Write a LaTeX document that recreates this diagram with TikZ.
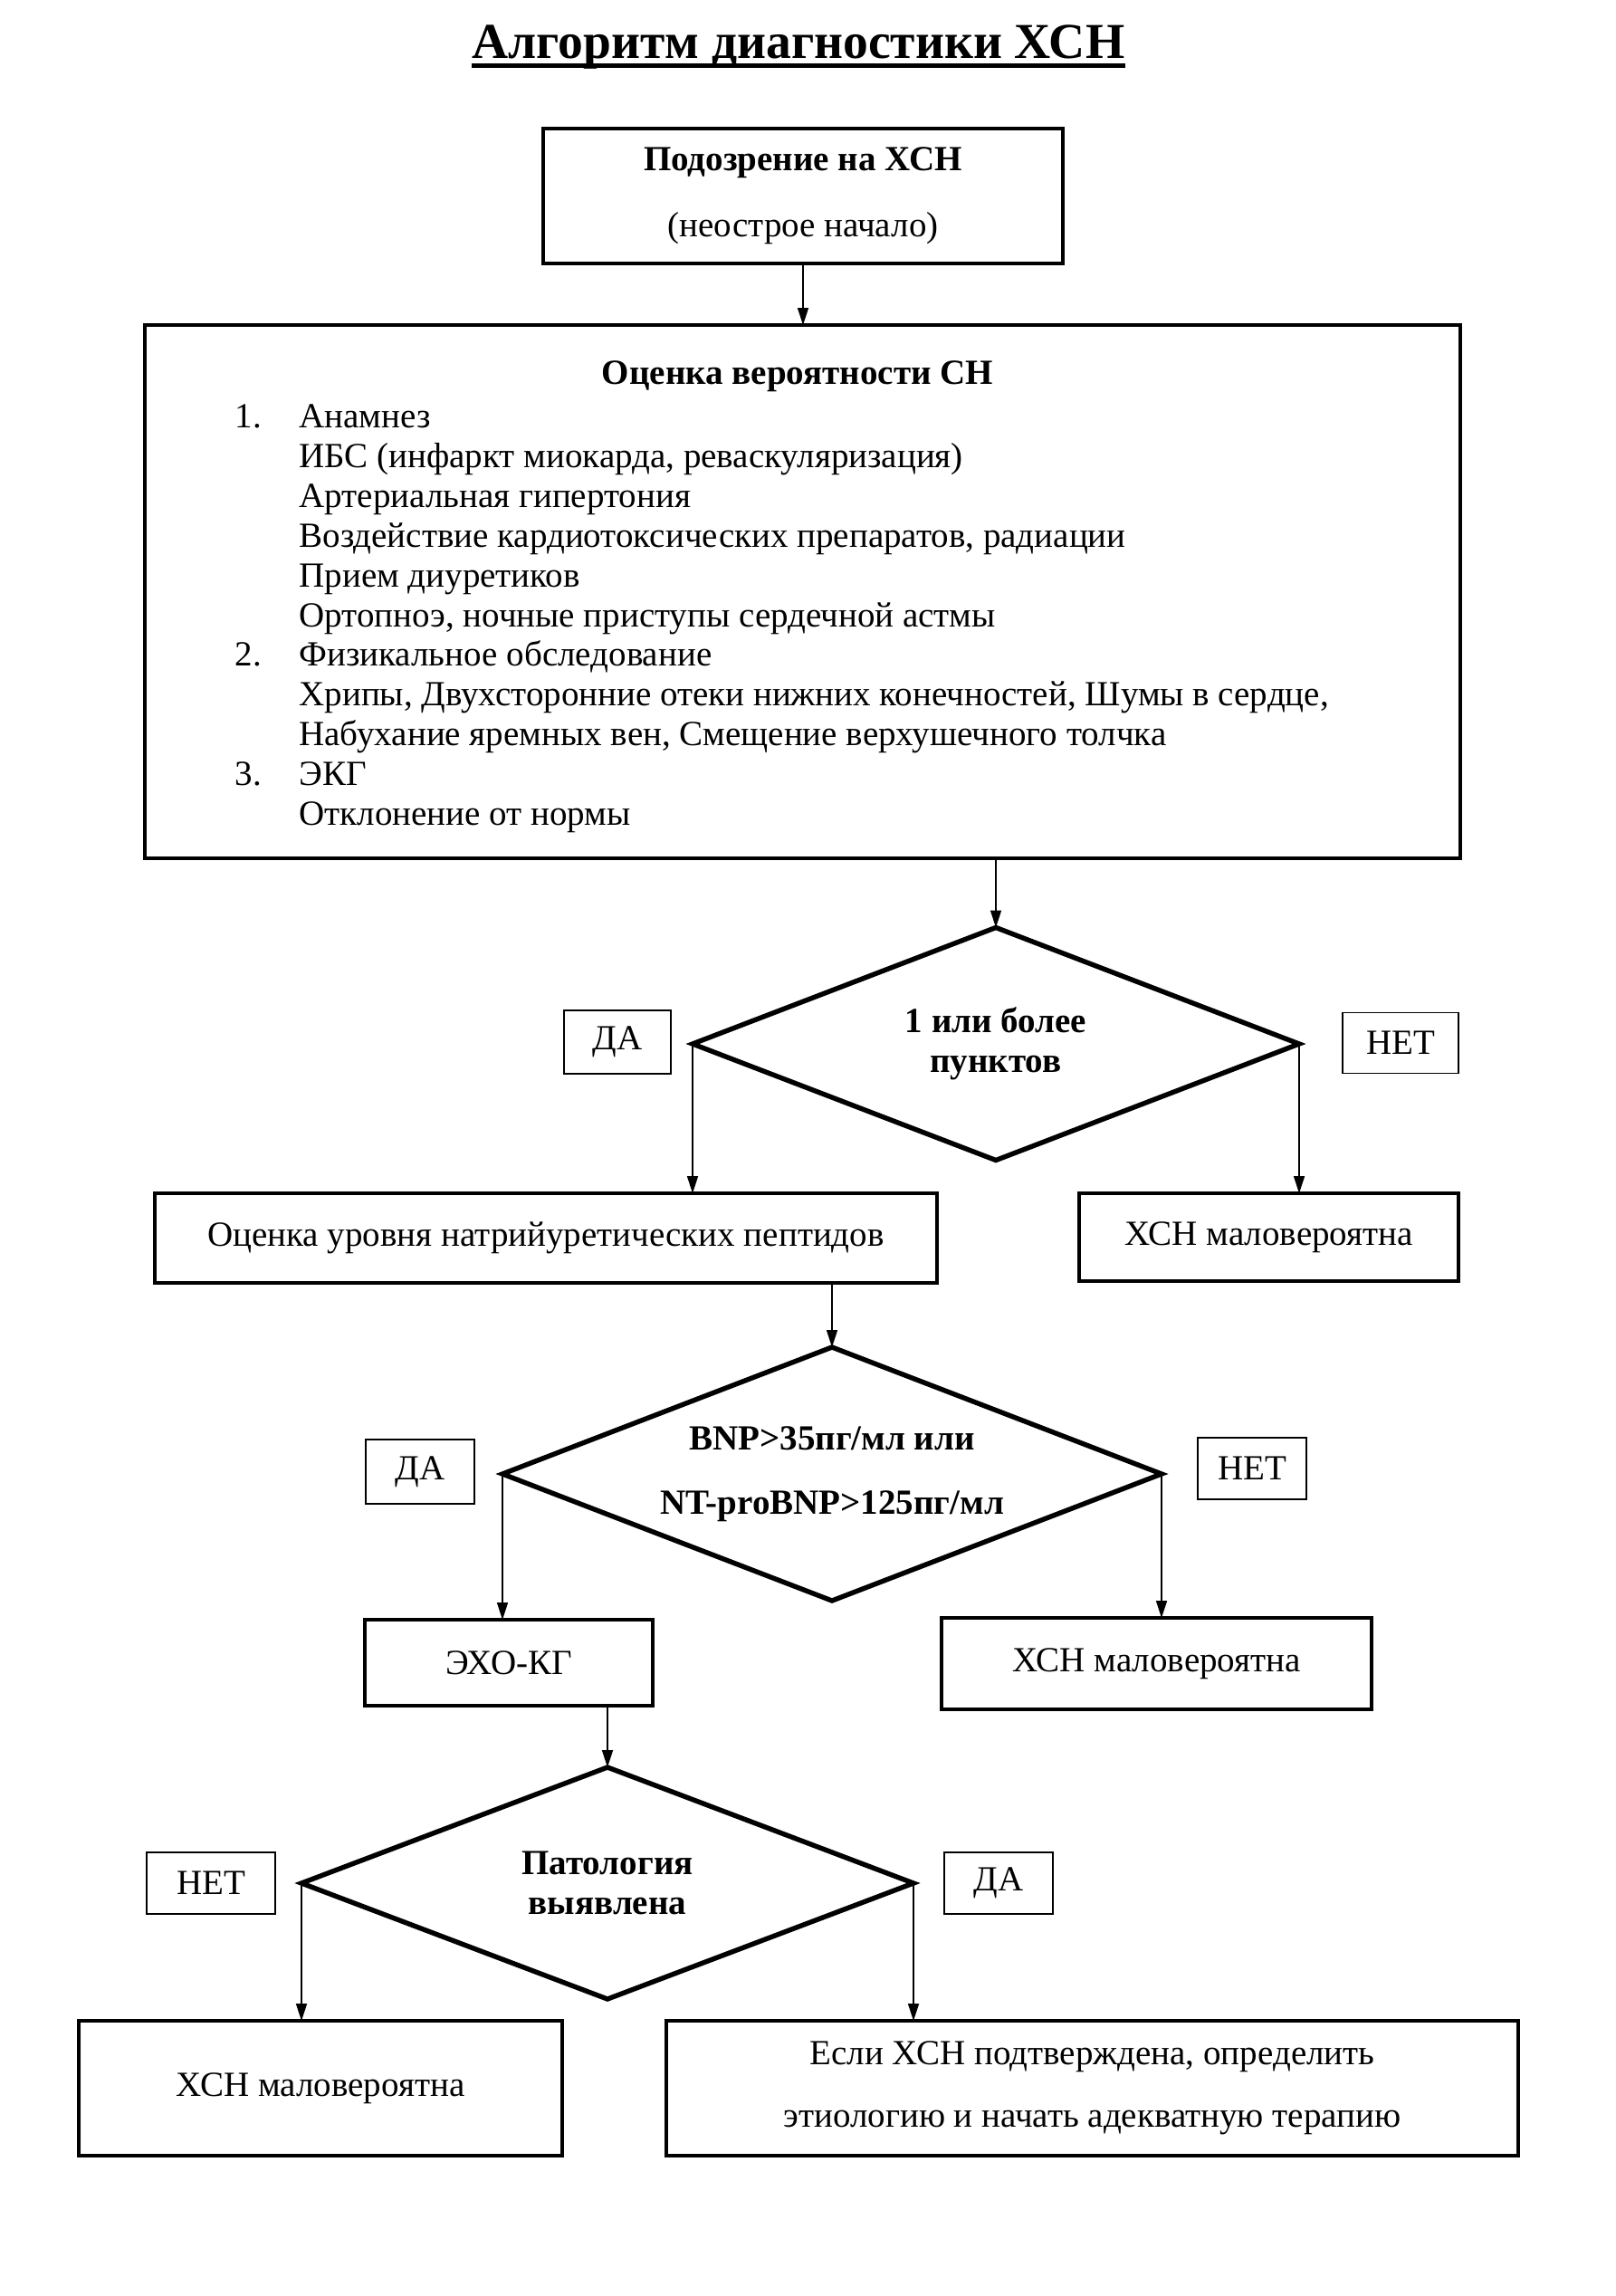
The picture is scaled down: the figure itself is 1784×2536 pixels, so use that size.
\documentclass[tikz,border=0pt]{standalone}
\usepackage{fontspec}
\setmainfont{Liberation Serif}
\usetikzlibrary{shapes.geometric,arrows.meta}
\newcommand\pxl{0.11711mm}

\begin{document}
\begin{tikzpicture}[x=0.11711mm, y=-0.11711mm,
  font=\fontsize{13}{14.6}\selectfont,
  >={Triangle[length=2.2mm,width=1.4mm]},
  box/.style={draw, line width=1.3pt, inner sep=0pt, outer sep=0pt, align=center},
  decision/.style={draw, diamond, aspect=2.5, line width=1.8pt, inner sep=0pt, outer sep=0pt, align=center, font=\bfseries\fontsize{13}{14.6}\selectfont},
  answer/.style={draw, line width=0.6pt, inner sep=0pt, outer sep=0pt}]
  \useasboundingbox (0,0) rectangle (1784,2536);

  \node[font=\bfseries\fontsize{18.5}{22}\selectfont, inner sep=0pt, anchor=base] (title) at (882,65) {Алгоритм диагностики ХСН};
  \draw[line width=1.6pt] ([yshift=-0.9mm]title.base west) -- ([yshift=-0.9mm]title.base east);

  \node[box, minimum width=574*\pxl, minimum height=149*\pxl] (susp) at (887,216.5) {\textbf{Подозрение на ХСН}\\[3.4mm](неострое начало)};

  \node[box, minimum width=1453*\pxl, minimum height=589*\pxl] (assess) at (886.5,653.5) {};
  \node[font=\bfseries\fontsize{13}{14.6}\selectfont] (assesstitle) at (881,416) {Оценка вероятности СН};
  \node[anchor=base west, inner sep=0pt] (items) at (259,473) {\begin{tabular}[t]{@{}p{8.3mm}@{}l@{}}
    1. & Анамнез\\
       & ИБС (инфаркт миокарда, реваскуляризация)\\
       & Артериальная гипертония\\
       & Воздействие кардиотоксических препаратов, радиации\\
       & Прием диуретиков\\
       & Ортопноэ, ночные приступы сердечной астмы\\
    2. & Физикальное обследование\\
       & Хрипы, Двухсторонние отеки нижних конечностей, Шумы в сердце,\\
       & Набухание яремных вен, Смещение верхушечного толчка\\
    3. & ЭКГ\\
       & Отклонение от нормы
  \end{tabular}};

  \node[decision, minimum width=670*\pxl, minimum height=257*\pxl] (d1) at (1100,1153) {1 или более\\пунктов};
  \node[answer, minimum width=118*\pxl, minimum height=70*\pxl] (yes1) at (682,1151) {ДА};
  \node[answer, minimum width=128*\pxl, minimum height=67*\pxl] (no1) at (1547,1152) {НЕТ};
  \node[box, minimum width=864*\pxl, minimum height=99*\pxl] (natr) at (603,1367.5) {Оценка уровня натрийуретических пептидов};
  \node[box, minimum width=419*\pxl, minimum height=97*\pxl] (unl1) at (1401.5,1366.5) {ХСН маловероятна};

  \node[decision, minimum width=728*\pxl, minimum height=280*\pxl] (d2) at (919,1628) {BNP>35пг/мл или\\[3.2mm]NT-proBNP>125пг/мл};
  \node[answer, minimum width=120*\pxl, minimum height=71*\pxl] (yes2) at (464,1625.5) {ДА};
  \node[answer, minimum width=120*\pxl, minimum height=68*\pxl] (no2) at (1383,1622) {НЕТ};
  \node[box, minimum width=318*\pxl, minimum height=95*\pxl] (echo) at (562,1836.5) {ЭХО-КГ};
  \node[box, minimum width=475*\pxl, minimum height=101*\pxl] (unl2) at (1277.5,1837.5) {ХСН маловероятна};

  \node[decision, minimum width=676*\pxl, minimum height=256*\pxl] (d3) at (671,2080) {Патология\\выявлена};
  \node[answer, minimum width=142*\pxl, minimum height=68*\pxl] (no3) at (233,2080) {НЕТ};
  \node[answer, minimum width=120*\pxl, minimum height=68*\pxl] (yes3) at (1103,2080) {ДА};
  \node[box, minimum width=534*\pxl, minimum height=149*\pxl] (unl3) at (354,2306.5) {ХСН маловероятна};
  \node[box, minimum width=941*\pxl, minimum height=149*\pxl] (confirm) at (1206.5,2306.5) {Если ХСН подтверждена, определить\\[2.9mm]этиологию и начать адекватную терапию};

  \draw[->] (susp.south) -- (susp.south |- assess.north);
  \draw[->] (d1.north |- assess.south) -- (d1.north);
  \draw[->] (d1.west) -- (d1.west |- natr.north);
  \draw[->] (d1.east) -- (d1.east |- unl1.north);
  \draw[->] (d2.north |- natr.south) -- (d2.north);
  \draw[->] (d2.west) -- (d2.west |- echo.north);
  \draw[->] (d2.east) -- (d2.east |- unl2.north);
  \draw[->] (d3.north |- echo.south) -- (d3.north);
  \draw[->] (d3.west) -- (d3.west |- unl3.north);
  \draw[->] (d3.east) -- (d3.east |- confirm.north);
\end{tikzpicture}
\end{document}
